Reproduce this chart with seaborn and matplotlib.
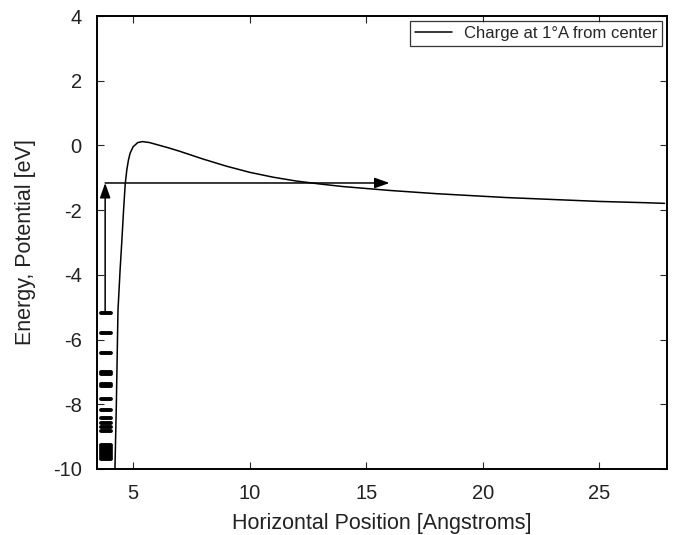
import matplotlib
matplotlib.use("Agg")
import matplotlib.pyplot as plt
import seaborn as sns
import pandas as pd

# Potential of a point charge 1 Å from the centre, along the horizontal axis
position = [4.22, 4.28, 4.35, 4.44, 4.52, 4.59, 4.66, 4.73, 4.80, 4.87, 5.0, 5.2,
            5.4, 5.7, 6.0, 6.5, 7.0, 8.0, 9.0, 10.0, 11.0, 12.0, 13.0, 14.0, 15.0,
            16.0, 17.0, 18.0, 19.0, 20.0, 21.0, 22.0, 23.0, 24.0, 25.0, 26.0, 27.0, 27.8]
potential = [-10.0, -8.0, -5.1, -3.86, -2.9, -2.0, -1.2, -0.75, -0.45, -0.24, -0.04, 0.09,
             0.12, 0.09, 0.03, -0.07, -0.18, -0.42, -0.64, -0.83, -0.98, -1.10, -1.19, -1.27, -1.33,
             -1.39, -1.44, -1.49, -1.53, -1.57, -1.61, -1.64, -1.67, -1.70, -1.73, -1.75, -1.77, -1.79]

# Bound energy levels (eV)
levels = [-5.18, -5.80, -6.41, -7.00, -7.05, -7.38, -7.43, -7.84, -8.19, -8.42, -8.57,
          -8.71, -8.83, -9.27, -9.33, -9.39, -9.45, -9.51, -9.57, -9.63, -9.68]
level_x = (3.62, 4.04)

# Excitation path: up from the highest level, then out along the barrier
arrow_x = 3.80
arrow_top = -1.16
arrow_end_x = 16.0

sns.set_style("ticks")
plt.rcParams["font.family"] = ["Liberation Sans", "DejaVu Sans"]
plt.rcParams["axes.unicode_minus"] = False

fig = plt.figure(figsize=(6.75, 5.35), dpi=100)
ax = fig.add_axes([0.1437, 0.1234, 0.8443, 0.8466])

df = pd.DataFrame({"x": position, "y": potential})
sns.lineplot(data=df, x="x", y="y", ax=ax, color="black", linewidth=1.1,
             label="Charge at 1°A from center", sort=False)

for e in levels:
    ax.plot(level_x, (e, e), color="black", linewidth=2.8, solid_capstyle="round")

arrow_style = dict(arrowstyle="-|>,head_length=0.9,head_width=0.32",
                   color="black", lw=1.1, shrinkA=0, shrinkB=0)
ax.annotate("", xy=(arrow_x, arrow_top), xytext=(arrow_x, levels[0]),
            arrowprops=arrow_style)
ax.annotate("", xy=(arrow_end_x, arrow_top), xytext=(arrow_x, arrow_top),
            arrowprops=arrow_style)

ax.set_xlim(3.45, 27.9)
ax.set_ylim(-10, 4)
ax.set_xticks([5, 10, 15, 20, 25])
ax.set_yticks([-10, -8, -6, -4, -2, 0, 2, 4])
ax.set_xlabel("Horizontal Position [Angstroms]", fontsize=15.5, color="#222222",
              labelpad=7)
ax.set_ylabel("Energy, Potential [eV]", fontsize=15.5, color="#222222",
              labelpad=12)
ax.tick_params(direction="in", length=5, width=0.8, labelsize=14.5,
               top=True, right=True, labelcolor="#222222", pad=11)
for s in ax.spines.values():
    s.set_linewidth(1.4)
    s.set_color("black")

leg = ax.legend(loc="upper right", fontsize=12, frameon=True, fancybox=False,
                handlelength=2.2, handletextpad=0.7, borderpad=0.3,
                borderaxespad=0.3)
leg.get_frame().set_edgecolor("black")
leg.get_frame().set_linewidth(0.9)

fig.savefig("out.png", dpi=100)
